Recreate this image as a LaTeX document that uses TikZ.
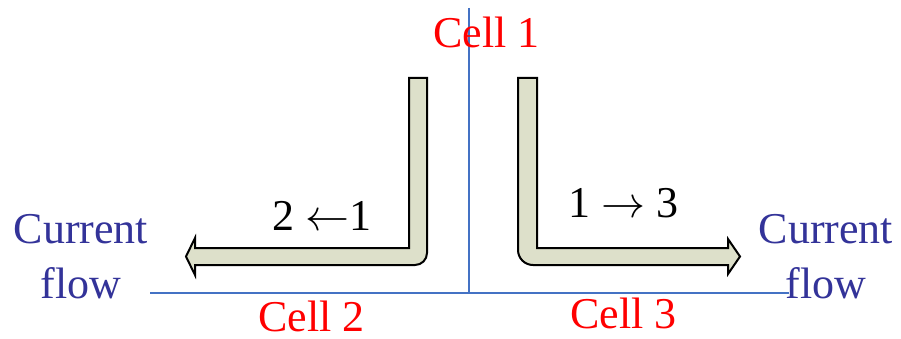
\RequirePackage{fix-cm}
\documentclass[tikz,border=0pt]{standalone}
\usepackage{fontspec}
\setmainfont{Liberation Serif}
\usetikzlibrary{positioning}

\definecolor{cellred}{RGB}{255,0,0}
\definecolor{flowblue}{RGB}{51,51,153}
\definecolor{axisblue}{RGB}{68,114,196}
\definecolor{arrowfill}{RGB}{221,224,202}

\begin{document}
\begin{tikzpicture}[
    x=1pt, y=-1pt,
    every node/.style={inner sep=0pt, font=\fontsize{44}{55}\selectfont},
    celllabel/.style={text=cellred, anchor=base west},
    flowlabel/.style={text=flowblue, align=center, anchor=base},
    dirlabel/.style={text=black, anchor=base west},
    axis/.style={draw=axisblue, line width=1.5pt},
    bentarrow/.style={draw=black, fill=arrowfill, line width=2pt, line join=miter}
  ]
    \useasboundingbox (0,0) rectangle (901,339);

    % cell borders
    \coordinate (top) at (469,8);
    \coordinate (origin) at (469,293);
    \coordinate (leftend) at (150,293);
    \coordinate (rightend) at (789,293);
    \draw[axis] (top) -- (origin);
    \draw[axis] (leftend) -- (rightend);

    % bent arrows
    \draw[bentarrow] (409,78) -- (427,78) -- (427,253)
      arc[start angle=0, end angle=90, radius=12]
      -- (195,265) -- (195,275) -- (186,256.5) -- (195,238) -- (195,248)
      -- (409,248) -- cycle;
    \draw[bentarrow] (518,78) -- (537,78) -- (537,248) -- (728,248)
      -- (728,239) -- (740,256.5) -- (728,274) -- (728,265) -- (533,265)
      arc[start angle=90, end angle=180, radius=15]
      -- cycle;

    \node[celllabel] (cell1) at (433,48) {Cell 1};
    \node[celllabel] (cell2) at (258,331) {Cell 2};
    \node[celllabel] (cell3) at (570,328) {Cell 3};

    \node[dirlabel] (lbl21) at (272,230) {2 $\leftarrow$1};
    \node[dirlabel] (lbl13) at (568,217) {1 $\rightarrow$ 3};

    % last line's baseline is the node base
    \node[flowlabel] (flowL) at (81,298) {Current\\flow};
    \node[flowlabel] (flowR) at (826,298) {Current\\flow};
\end{tikzpicture}
\end{document}
